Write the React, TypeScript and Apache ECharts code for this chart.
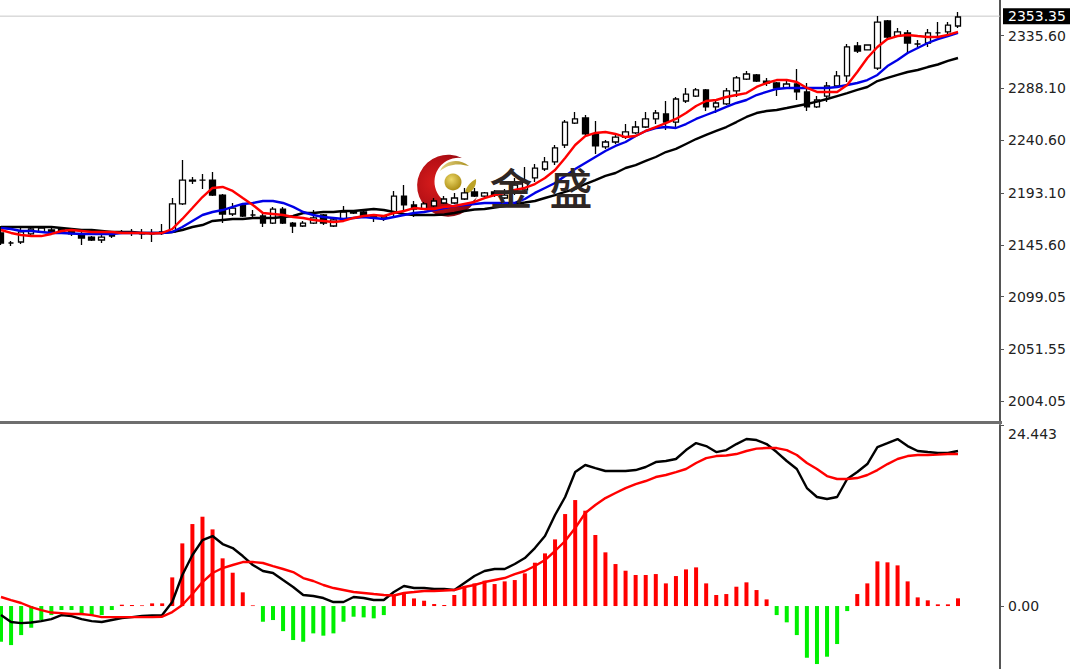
import React, { useEffect, useRef } from "react";
import * as echarts from "echarts";

const priceTicks = [2335.6, 2288.1, 2240.6, 2193.1, 2145.6, 2099.05, 2051.55, 2004.05];
const lastPrice = 2353.35;
const macdTicks = [0, 24.443];

const opens = [
  2156.7, 2147.6, 2148.5, 2155.8, 2157.6, 2159.4, 2160.3, 2158.5, 2154.9, 2153.0,
  2150.3, 2154.9, 2157.6, 2157.6, 2156.7, 2155.8, 2156.7, 2157.6, 2183.0, 2203.8,
  2204.7, 2204.7, 2191.1, 2173.9, 2182.1, 2173.0, 2172.1, 2165.7, 2178.4, 2165.7,
  2163.0, 2165.7, 2173.0, 2163.0, 2168.5, 2176.6, 2175.7, 2172.1, 2170.3, 2175.7,
  2190.2, 2182.1, 2178.4, 2181.2, 2183.9, 2183.9, 2187.5, 2193.9, 2190.2, 2193.9,
  2188.4, 2193.0, 2195.7, 2206.6, 2214.7, 2221.1, 2236.5, 2256.4, 2261.0, 2246.5,
  2234.7, 2239.2, 2243.7, 2247.4, 2252.8, 2260.1, 2264.6, 2257.3, 2276.4, 2280.9,
  2286.4, 2271.0, 2273.7, 2285.5, 2296.3, 2300.0, 2294.5, 2292.7, 2288.2, 2291.8,
  2284.6, 2271.0, 2280.9, 2290.0, 2299.1, 2326.3, 2322.7, 2306.3, 2349.0, 2335.3,
  2338.1, 2328.1, 2329.0, 2338.1, 2339.0, 2344.4,
];
const closes = [
  2147.6, 2147.6, 2157.6, 2160.3, 2161.2, 2157.6, 2157.6, 2155.8, 2152.1, 2150.3,
  2153.0, 2153.9, 2157.6, 2157.6, 2155.8, 2155.8, 2157.6, 2183.0, 2204.7, 2204.7,
  2204.7, 2191.1, 2173.9, 2179.3, 2172.1, 2173.0, 2165.7, 2178.4, 2165.7, 2163.0,
  2165.7, 2170.3, 2165.7, 2168.5, 2175.7, 2174.8, 2172.1, 2170.3, 2172.1, 2190.2,
  2182.1, 2178.4, 2183.0, 2185.7, 2187.5, 2188.4, 2193.0, 2190.2, 2193.0, 2191.1,
  2191.1, 2200.2, 2202.9, 2215.6, 2221.1, 2233.8, 2257.3, 2260.1, 2246.5, 2235.6,
  2239.2, 2243.7, 2248.3, 2252.8, 2260.1, 2265.5, 2257.3, 2278.2, 2282.7, 2286.4,
  2271.0, 2274.6, 2285.5, 2297.3, 2300.9, 2294.5, 2292.7, 2288.2, 2291.8, 2284.6,
  2271.0, 2277.3, 2290.0, 2299.1, 2325.4, 2321.7, 2327.2, 2348.0, 2334.4, 2339.0,
  2329.0, 2328.1, 2338.1, 2338.1, 2345.3, 2352.6,
];
const lows = [
  2145.8, 2144.9, 2146.7, 2154.9, 2156.7, 2155.8, 2155.8, 2153.9, 2145.8, 2149.4,
  2147.6, 2152.1, 2155.8, 2153.9, 2151.2, 2148.5, 2154.9, 2156.7, 2182.1, 2201.1,
  2196.6, 2190.2, 2165.7, 2172.1, 2171.2, 2171.2, 2162.1, 2164.8, 2164.8, 2156.7,
  2162.1, 2164.8, 2163.9, 2162.1, 2167.6, 2173.9, 2171.2, 2166.6, 2167.6, 2170.3,
  2175.7, 2171.2, 2177.5, 2180.3, 2183.0, 2183.0, 2186.6, 2189.3, 2189.3, 2189.3,
  2187.5, 2191.1, 2192.0, 2202.9, 2212.9, 2218.3, 2233.8, 2255.5, 2245.6, 2228.3,
  2232.9, 2237.4, 2241.9, 2246.5, 2251.9, 2255.5, 2250.1, 2252.8, 2274.6, 2280.0,
  2267.3, 2265.5, 2272.8, 2280.0, 2295.4, 2293.6, 2290.0, 2280.9, 2287.3, 2277.3,
  2267.3, 2270.0, 2275.5, 2288.2, 2293.6, 2319.9, 2322.7, 2304.5, 2331.7, 2334.4,
  2319.9, 2325.4, 2325.4, 2333.5, 2337.2, 2342.6,
];
const highs = [
  2163.0, 2149.4, 2161.2, 2162.1, 2163.0, 2161.2, 2162.1, 2160.3, 2157.6, 2153.9,
  2154.9, 2157.6, 2159.4, 2160.3, 2160.3, 2160.3, 2164.8, 2188.4, 2222.9, 2207.5,
  2210.2, 2212.0, 2192.0, 2183.9, 2183.0, 2177.5, 2174.8, 2180.3, 2180.3, 2166.6,
  2167.6, 2177.5, 2173.9, 2170.3, 2181.2, 2177.5, 2177.5, 2173.9, 2173.0, 2194.8,
  2200.2, 2185.7, 2184.8, 2188.4, 2190.2, 2193.0, 2197.5, 2197.5, 2193.9, 2195.7,
  2196.6, 2206.6, 2216.5, 2219.3, 2225.6, 2236.5, 2259.2, 2266.4, 2263.7, 2258.3,
  2241.0, 2245.6, 2255.5, 2258.3, 2266.4, 2268.2, 2276.4, 2280.0, 2288.2, 2288.2,
  2287.3, 2277.3, 2288.2, 2299.1, 2303.6, 2300.9, 2297.3, 2293.6, 2295.4, 2305.4,
  2292.7, 2280.9, 2293.6, 2303.6, 2328.1, 2329.9, 2327.2, 2353.5, 2349.9, 2342.6,
  2340.8, 2331.7, 2341.7, 2348.0, 2348.0, 2357.1,
];
const maFast = [
  2159.4, 2156.7, 2154.9, 2153.9, 2153.9, 2155.8, 2158.5, 2159.4, 2158.5, 2157.6,
  2157.6, 2157.6, 2156.7, 2156.7, 2156.7, 2156.2, 2156.7, 2160.3, 2169.4, 2179.3,
  2189.3, 2197.5, 2198.4, 2194.8, 2188.4, 2182.1, 2174.8, 2173.9, 2173.0, 2171.2,
  2170.3, 2168.5, 2167.6, 2166.6, 2167.6, 2170.3, 2172.1, 2173.0, 2172.1, 2174.8,
  2176.6, 2179.3, 2178.4, 2178.4, 2180.3, 2181.2, 2183.0, 2184.8, 2188.4, 2191.1,
  2193.0, 2195.7, 2197.5, 2201.1, 2206.6, 2213.8, 2224.7, 2236.5, 2244.6, 2247.4,
  2248.3, 2246.5, 2243.7, 2244.6, 2249.2, 2252.8, 2256.4, 2260.1, 2265.5, 2271.9,
  2276.4, 2277.3, 2280.0, 2281.8, 2283.6, 2289.1, 2292.7, 2295.4, 2295.4, 2293.6,
  2288.2, 2284.6, 2284.6, 2284.6, 2290.9, 2302.7, 2315.4, 2325.4, 2332.6, 2335.3,
  2336.3, 2335.3, 2334.4, 2334.4, 2336.3, 2339.0,
];
const maMid = [
  2161.2, 2160.3, 2158.5, 2158.5, 2157.6, 2156.7, 2156.7, 2156.2, 2155.8, 2155.8,
  2155.8, 2155.8, 2156.7, 2156.7, 2156.7, 2156.7, 2156.7, 2157.6, 2162.1, 2167.6,
  2173.0, 2175.7, 2177.5, 2180.3, 2183.0, 2183.9, 2185.7, 2185.7, 2183.9, 2180.3,
  2175.7, 2173.0, 2171.2, 2170.3, 2169.4, 2170.3, 2171.2, 2170.3, 2169.4, 2171.2,
  2173.0, 2174.8, 2175.7, 2177.5, 2179.3, 2181.2, 2182.1, 2183.0, 2183.9, 2183.9,
  2183.9, 2183.9, 2187.5, 2193.0, 2197.5, 2202.0, 2208.4, 2214.7, 2220.2, 2225.6,
  2231.0, 2235.6, 2239.2, 2244.6, 2249.2, 2251.9, 2252.8, 2251.9, 2255.5, 2260.1,
  2263.7, 2267.3, 2271.0, 2274.6, 2277.3, 2281.8, 2284.6, 2287.3, 2288.2, 2288.2,
  2288.2, 2288.2, 2288.2, 2289.1, 2290.9, 2292.7, 2295.4, 2300.0, 2308.1, 2313.6,
  2319.9, 2324.5, 2329.0, 2332.6, 2335.3, 2338.1,
];
const maSlow = [
  2162.1, 2162.1, 2162.1, 2162.1, 2162.1, 2162.1, 2161.2, 2160.3, 2159.4, 2159.4,
  2158.5, 2157.6, 2157.6, 2157.6, 2156.7, 2156.7, 2156.7, 2157.6, 2159.4, 2162.1,
  2163.9, 2167.6, 2168.5, 2169.4, 2169.4, 2170.3, 2170.3, 2170.3, 2171.2, 2172.1,
  2174.8, 2174.8, 2175.7, 2175.7, 2176.6, 2176.6, 2177.5, 2178.4, 2177.5, 2175.7,
  2173.9, 2173.0, 2173.0, 2173.0, 2173.5, 2174.8, 2176.6, 2178.0, 2178.4, 2179.8,
  2181.2, 2183.0, 2184.3, 2185.7, 2188.4, 2191.1, 2193.9, 2196.6, 2201.1, 2204.7,
  2208.4, 2211.1, 2215.6, 2218.3, 2222.0, 2225.6, 2230.1, 2232.9, 2237.4, 2241.9,
  2245.6, 2249.2, 2252.8, 2257.3, 2261.9, 2265.5, 2267.3, 2268.2, 2270.0, 2271.9,
  2273.7, 2275.9, 2278.2, 2280.9, 2283.6, 2286.4, 2289.1, 2294.5, 2297.3, 2300.0,
  2302.7, 2304.5, 2307.2, 2309.5, 2312.7, 2315.4,
];
const macdBars = [
  -4.82, -5.27, -3.92, -2.93, -1.89, -1.22, -0.54, -0.54, -1.22, -1.22,
  -1.22, -0.54, 0.18, 0.14, 0.09, 0.36, 0.36, 3.87, 8.46, 11.07,
  12.06, 10.35, 6.44, 4.5, 1.85, 0.09, -2.12, -1.89, -3.38, -4.59,
  -4.82, -3.69, -4.0, -3.69, -2.12, -1.44, -1.53, -1.66, -1.22, 1.49,
  1.8, 1.03, 0.72, 0.27, 0.14, 1.49, 2.61, 3.06, 3.42, 2.97,
  3.33, 3.51, 4.41, 5.85, 7.11, 9.0, 12.42, 14.31, 12.87, 9.59,
  7.25, 5.67, 4.77, 4.19, 4.19, 4.32, 3.06, 4.05, 4.95, 5.22,
  3.06, 1.49, 1.62, 2.61, 3.2, 2.16, 0.9, -1.22, -2.2, -3.92,
  -6.98, -7.83, -6.84, -5.13, -0.68, 1.62, 3.06, 6.03, 5.9, 5.49,
  3.33, 1.17, 0.77, 0.23, 0.23, 1.04,
];
const macdLine = [
  -1.22, -2.16, -2.3, -2.23, -2.03, -1.76, -1.22, -1.35, -1.76, -2.03,
  -2.16, -1.89, -1.62, -1.49, -1.35, -1.28, -1.22, 0.54, 4.19, 6.89,
  8.91, 9.45, 8.37, 7.83, 6.75, 5.54, 4.73, 4.46, 3.51, 2.57,
  1.49, 1.35, 1.08, 0.54, 0.54, 1.22, 1.08, 0.81, 0.81, 1.89,
  2.7, 2.43, 2.43, 2.3, 2.3, 2.16, 3.11, 4.05, 4.73, 5.0,
  5.0, 5.67, 6.48, 7.83, 9.45, 12.29, 14.72, 18.09, 19.04, 18.63,
  18.23, 18.23, 18.23, 18.36, 18.77, 19.44, 19.58, 19.85, 21.06, 22.0,
  21.6, 20.79, 21.06, 21.87, 22.55, 22.41, 21.87, 20.79, 19.58, 18.5,
  15.93, 14.72, 14.45, 14.72, 17.15, 18.09, 19.17, 21.47, 22.0, 22.55,
  21.6, 20.93, 20.79, 20.66, 20.66, 20.93,
];
const signalLine = [
  1.22, 0.81, 0.41, -0.14, -0.54, -0.88, -0.95, -1.08, -1.08, -1.22,
  -1.49, -1.49, -1.49, -1.49, -1.49, -1.49, -1.44, -0.81, 0.14, 1.62,
  3.24, 4.46, 5.13, 5.54, 5.94, 5.94, 5.81, 5.4, 5.0, 4.59,
  3.78, 3.38, 2.84, 2.43, 2.16, 1.89, 1.76, 1.62, 1.49, 1.42,
  1.76, 1.89, 2.03, 2.03, 2.09, 2.16, 2.57, 2.84, 3.24, 3.51,
  3.78, 4.32, 4.73, 5.4, 6.21, 7.43, 8.78, 10.53, 12.56, 13.64,
  14.58, 15.26, 15.93, 16.47, 16.88, 17.42, 17.69, 18.09, 18.5, 19.31,
  19.98, 20.25, 20.32, 20.52, 20.93, 21.26, 21.33, 21.33, 21.06, 20.39,
  19.31, 18.5, 17.55, 17.15, 17.15, 17.28, 17.69, 18.36, 19.17, 19.85,
  20.25, 20.39, 20.39, 20.45, 20.52, 20.52,
];

const categories = opens.map((_, i) => String(i));
const ohlc = opens.map((o, i) => [o, closes[i], lows[i], highs[i]]);

echarts.graphic.registerShape(
  "moonBody",
  echarts.graphic.extendPath("M46 3 A31 31 0 1 0 61 42 A24 24 0 1 1 46 3 Z", {})
);
echarts.graphic.registerShape(
  "leafTop",
  echarts.graphic.extendPath("M24 16 C28 6 42 2 53 11 C42 8 32 9 24 16 Z", {})
);
echarts.graphic.registerShape(
  "leafSide",
  echarts.graphic.extendPath("M49 39 C49 33 54 27 60 24 C61 31 56 38 49 39 Z", {})
);

const PRICE_MAX = 2368;
const PRICE_MIN = 1986.15;
const MACD_MAX = 24.443;
const MACD_MIN = -8.5;
const FONT = "DejaVu Sans";

export default function App() {
  const ref = useRef<HTMLDivElement>(null);
  useEffect(() => {
    const chart = echarts.init(ref.current!, undefined, { renderer: "svg" });
    const rightAxisLabel = {
      fontFamily: FONT,
      fontSize: 14,
      color: "#222",
      margin: 8,
    };
    const frameAxis = { show: true, onZero: false, lineStyle: { color: "#555", width: 2 } };
    const frameTick = { length: 4, lineStyle: { color: "#555", width: 1 } };
    chart.setOption({
      animation: false,
      backgroundColor: "#fff",
      grid: [
        { left: 0, top: 0, width: 1000, height: 421 },
        { left: 1, top: 0, width: 957, height: 421 },
        { left: 0, top: 425, width: 1000, height: 244 },
        { left: 1, top: 425, width: 957, height: 244 },
      ],
      xAxis: [
        { gridIndex: 0, type: "value", min: 0, max: 1, show: false },
        { gridIndex: 1, type: "category", data: categories, boundaryGap: false, show: false },
        { gridIndex: 2, type: "value", min: 0, max: 1, show: false },
        { gridIndex: 3, type: "category", data: categories, boundaryGap: false, show: false },
      ],
      yAxis: [
        {
          gridIndex: 0,
          type: "value",
          position: "right",
          min: PRICE_MIN,
          max: PRICE_MAX,
          splitLine: { show: false },
          axisLine: frameAxis,
          axisTick: { ...frameTick, customValues: priceTicks },
          axisLabel: {
            ...rightAxisLabel,
            customValues: priceTicks,
            formatter: (v: number) => v.toFixed(2),
          },
        },
        { gridIndex: 1, type: "value", min: PRICE_MIN, max: PRICE_MAX, show: false },
        {
          gridIndex: 2,
          type: "value",
          position: "right",
          min: MACD_MIN,
          max: MACD_MAX,
          splitLine: { show: false },
          axisLine: frameAxis,
          axisTick: { ...frameTick, customValues: macdTicks },
          axisLabel: {
            ...rightAxisLabel,
            customValues: macdTicks,
            verticalAlignMaxLabel: "top",
            formatter: (v: number) => (v === 0 ? "0.00" : "{top|" + v.toFixed(3) + "}"),
            rich: {
              top: { fontFamily: FONT, fontSize: 14, color: "#222", padding: [2, 0, 0, 0] },
            },
          },
        },
        { gridIndex: 3, type: "value", min: MACD_MIN, max: MACD_MAX, show: false },
      ],
      series: [
        {
          type: "line",
          xAxisIndex: 0,
          yAxisIndex: 0,
          data: [
            [0, lastPrice],
            [1, lastPrice],
          ],
          showSymbol: false,
          silent: true,
          z: 1,
          lineStyle: { color: "#c8c8c8", width: 1 },
          endLabel: {
            show: true,
            formatter: () => lastPrice.toFixed(2),
            fontFamily: FONT,
            fontSize: 14,
            color: "#fff",
            backgroundColor: "#000",
            padding: [2, 6, 0, 5],
            distance: 3,
          },
        },
        {
          type: "candlestick",
          xAxisIndex: 1,
          yAxisIndex: 1,
          data: ohlc,
          barWidth: 6,
          clip: false,
          z: 2,
          itemStyle: {
            color: "#fff",
            color0: "#000",
            borderColor: "#000",
            borderColor0: "#000",
            borderWidth: 1.3,
          },
        },
        ...[
          { data: maSlow, color: "#000" },
          { data: maMid, color: "#0000e6" },
          { data: maFast, color: "#ff0000" },
        ].map((s, k) => ({
          type: "line",
          xAxisIndex: 1,
          yAxisIndex: 1,
          data: s.data,
          showSymbol: false,
          clip: false,
          z: 3 + k,
          lineStyle: { color: s.color, width: 2.4 },
        })),
        {
          type: "bar",
          xAxisIndex: 3,
          yAxisIndex: 3,
          data: macdBars,
          barWidth: 4,
          clip: false,
          z: 2,
          itemStyle: {
            color: (p: any) => (p.value >= 0 ? "#ff0000" : "#00f000"),
          },
        },
        ...[
          { data: macdLine, color: "#000" },
          { data: signalLine, color: "#ff0000" },
        ].map((s, k) => ({
          type: "line",
          xAxisIndex: 3,
          yAxisIndex: 3,
          data: s.data,
          showSymbol: false,
          clip: false,
          z: 3 + k,
          lineStyle: { color: s.color, width: 2.4 },
        })),
      ],
      graphic: [
        {
          type: "rect",
          shape: { x: 0, y: 421, width: 1002, height: 3 },
          style: { fill: "#6e6e6e" },
          z: 20,
        },
        {
          type: "group",
          x: 416,
          y: 155,
          z: 30,
          children: [
            {
              type: "moonBody",
              style: {
                fill: new echarts.graphic.RadialGradient(0.3, 0.45, 0.75, [
                  { offset: 0, color: "#d81c1c" },
                  { offset: 0.6, color: "#b00e14" },
                  { offset: 1, color: "#7c0610" },
                ]),
              },
            },
            {
              type: "leafTop",
              style: {
                fill: new echarts.graphic.LinearGradient(0, 0, 1, 0, [
                  { offset: 0, color: "#e6d488" },
                  { offset: 1, color: "#a98f1c" },
                ]),
              },
            },
            { type: "leafSide", style: { fill: "#bca226" } },
            {
              type: "circle",
              shape: { cx: 37, cy: 27, r: 8.5 },
              style: {
                fill: new echarts.graphic.RadialGradient(0.4, 0.35, 0.7, [
                  { offset: 0, color: "#ecd868" },
                  { offset: 1, color: "#a8880f" },
                ]),
              },
            },
          ],
        },
        {
          type: "text",
          x: 511,
          y: 186,
          z: 30,
          style: {
            text: "金",
            fill: "#2e2624",
            font: '500 43px "Noto Sans CJK SC"',
            align: "center",
            verticalAlign: "middle",
          },
        },
        {
          type: "text",
          x: 571,
          y: 186,
          z: 30,
          style: {
            text: "盛",
            fill: "#2e2624",
            font: '500 43px "Noto Sans CJK SC"',
            align: "center",
            verticalAlign: "middle",
          },
        },
      ],
    });
    return () => chart.dispose();
  }, []);
  return (
    <div
      ref={ref}
      style={{ position: "fixed", left: 0, top: 0, width: 1070, height: 669, background: "#fff" }}
    />
  );
}
